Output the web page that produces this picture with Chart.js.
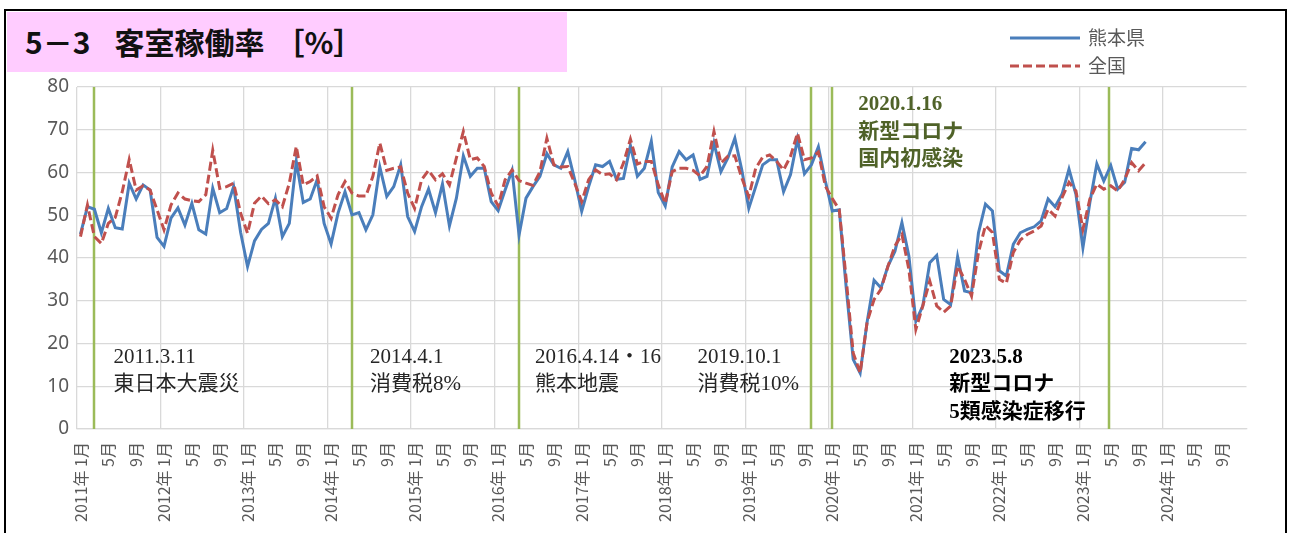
<!DOCTYPE html>
<html lang="ja">
<head>
<meta charset="utf-8">
<title>5－3 客室稼働率</title>
<script src="https://cdn.jsdelivr.net/npm/chart.js@4.4.1/dist/chart.umd.min.js"></script>
<style>
  html, body { margin: 0; padding: 0; background: #fff; }
  #wrap { position: relative; width: 1290px; height: 533px; overflow: hidden; }
  #frame { position: absolute; left: 4px; top: 9px; width: 1279px; height: 560px; border: 2px solid #000; }
  #chart { position: absolute; left: 0; top: 0; }
  #title {
    position: absolute; left: 7px; top: 12px; width: 560px; height: 60px;
    background: #ffccff; color: #111;
    font: bold 30px "Noto Sans CJK JP", sans-serif; line-height: 58px;
    padding-left: 18px; box-sizing: border-box; white-space: nowrap;
  }
  #title .g1 { margin-left: 24px; }
  #title .g2 { margin-left: 10px; }
</style>
</head>
<body>
<div id="wrap">
  <div id="frame"></div>
  <canvas id="chart" width="1290" height="533"></canvas>
  <div id="title"><span>5－3</span><span class="g1">客室稼働率</span><span class="g2">［%］</span></div>
</div>
<script>
// categories: 2011年1月 .. 2024年12月
const years = [2011, 2012, 2013, 2014, 2015, 2016, 2017, 2018, 2019, 2020, 2021, 2022, 2023, 2024];
const months = ['1月', '2月', '3月', '4月', '5月', '6月', '7月', '8月', '9月', '10月', '11月', '12月'];

// 熊本県 (2011年1月 - 2023年10月)
const kumamoto = [
  45.6, 52.0, 51.4, 45.9, 51.6, 47.1, 46.8, 57.5, 53.8, 57.1, 55.9, 44.8,
  42.7, 49.3, 51.7, 47.7, 52.8, 46.6, 45.6, 56.3, 50.6, 51.6, 56.7, 46.0,
  38.0, 44.0, 46.7, 48.1, 54.0, 45.0, 48.1, 62.6, 53.0, 53.8, 58.3, 48.1,
  43.3, 50.5, 55.5, 50.1, 50.6, 46.6, 50.1, 61.3, 54.4, 56.7, 61.8, 49.7,
  46.2, 52.0, 56.1, 50.6, 57.3, 47.5, 54.0, 63.9, 59.1, 61.0, 61.0, 53.2,
  51.1, 55.9, 60.5, 45.4, 54.0, 56.7, 59.1, 64.4, 61.8, 61.0, 64.9, 58.3,
  50.9, 56.7, 61.8, 61.4, 62.6, 58.4, 58.6, 66.3, 59.1, 61.0, 67.3, 55.3,
  52.2, 61.3, 64.9, 63.0, 64.1, 58.4, 59.1, 66.9, 60.2, 63.4, 68.0, 60.6,
  51.6, 56.7, 61.8, 63.0, 63.0, 55.5, 59.5, 67.8, 59.7, 61.8, 66.0, 58.0,
  51.0, 51.3, 33.0, 16.3, 13.1, 25.0, 34.8, 33.0, 38.1, 41.6, 48.3, 40.5,
  25.2, 28.8, 38.9, 40.6, 30.3, 29.1, 40.3, 32.3, 31.9, 45.9, 52.6, 51.0,
  37.0, 35.8, 43.2, 45.9, 46.7, 47.3, 48.7, 53.8, 52.0, 54.9, 60.8, 54.9,
  42.4, 53.0, 62.0, 58.0, 61.6, 56.1, 57.7, 65.6, 65.3, 67.2
];

// 全国 (2011年1月 - 2023年10月)
const zenkoku = [
  45.0, 52.4, 45.0, 43.4, 48.1, 49.5, 55.5, 63.0, 55.9, 56.9, 55.9, 51.3,
  46.6, 52.4, 55.2, 53.8, 53.4, 53.2, 54.8, 65.2, 56.3, 56.7, 57.5, 50.5,
  45.8, 52.8, 54.5, 52.7, 53.6, 52.0, 57.5, 66.1, 57.1, 57.9, 59.2, 52.0,
  49.3, 54.8, 57.9, 55.2, 54.5, 54.5, 59.1, 66.9, 60.5, 61.0, 61.3, 55.2,
  51.6, 58.3, 60.5, 58.3, 59.7, 57.1, 63.4, 69.6, 63.0, 63.4, 61.4, 55.2,
  52.2, 58.3, 60.6, 58.1, 57.5, 57.0, 60.2, 68.0, 61.8, 61.3, 61.4, 57.5,
  53.2, 58.3, 60.6, 59.5, 59.7, 58.3, 62.2, 67.8, 62.0, 62.6, 62.6, 57.1,
  52.8, 60.2, 61.0, 61.0, 60.5, 59.2, 61.4, 69.6, 62.2, 63.8, 63.9, 58.7,
  54.4, 61.0, 63.6, 64.1, 62.6, 60.6, 63.8, 69.2, 63.0, 63.4, 64.8, 56.8,
  53.9, 51.3, 35.0, 17.8, 13.1, 25.0, 30.3, 32.7, 38.1, 42.8, 45.5, 37.3,
  23.3, 28.8, 34.6, 28.8, 27.3, 28.8, 38.1, 35.0, 31.1, 41.3, 47.6, 46.0,
  35.0, 34.1, 41.3, 44.2, 45.5, 46.3, 47.5, 51.4, 49.8, 54.1, 57.7, 55.7,
  46.7, 53.8, 57.3, 56.1, 56.9, 55.7, 58.4, 62.3, 60.4, 62.3
];

// events: month index from 2011年1月
const eventMonths = [2, 39, 63, 105, 108, 147.8];
const eventTexts = [
  ['2011.3.11', '東日本大震災'],
  ['2014.4.1', '消費税8%'],
  ['2016.4.14・16', '熊本地震'],
  ['2019.10.1', '消費税10%'],
  ['2020.1.16', '新型コロナ', '国内初感染'],
  ['2023.5.8', '新型コロナ', '5類感染症移行']
];
// text placement/style for each event label
const eventLayout = [
  { dx: 19, at: 16.8, color: '#262626', bold: false },
  { dx: 18, at: 16.8, color: '#262626', bold: false },
  { dx: 16, at: 16.8, color: '#262626', bold: false },
  { dx: -114, at: 16.8, color: '#262626', bold: false },
  { dx: 26, at: 75.8, color: '#4f6228', bold: true },
  { dx: -160, at: 16.8, color: '#000000', bold: true }
];

const categories = [];
const tickLabels = [];
years.forEach((y) => {
  months.forEach((m, k) => {
    categories.push(y + '年' + m);
    tickLabels.push(k === 0 ? y + '年 ' + m : (k % 4 === 0 ? m : ''));
  });
});

const GREEN = '#9bbb59';
const GRID = '#d9d9d9';

const eventPlugin = {
  id: 'eventPlugin',
  beforeDatasetsDraw(chart) {
    const { ctx, chartArea, scales } = chart;
    ctx.save();
    ctx.strokeStyle = GREEN;
    ctx.lineWidth = 2.5;
    eventMonths.forEach((m) => {
      const px = Math.round(scales.x.getPixelForValue(m));
      ctx.beginPath();
      ctx.moveTo(px, chartArea.top);
      ctx.lineTo(px, chartArea.bottom);
      ctx.stroke();
    });
    ctx.restore();
  },
  afterDraw(chart) {
    const { ctx, scales } = chart;
    ctx.save();
    ctx.textBaseline = 'middle';
    ctx.textAlign = 'left';
    eventTexts.forEach((lines, i) => {
      const lay = eventLayout[i];
      const px = scales.x.getPixelForValue(eventMonths[i]) + lay.dx;
      const py = scales.y.getPixelForValue(lay.at);
      ctx.fillStyle = lay.color;
      ctx.font = (lay.bold ? 'bold ' : '') + '21px "Liberation Serif", "Noto Sans CJK JP"';
      lines.forEach((t, j) => ctx.fillText(t, px, py + j * 27.5));
    });

    // legend
    const items = chart.data.datasets;
    ctx.font = '19px "Noto Sans CJK JP"';
    ctx.fillStyle = '#595959';
    items.forEach((ds, j) => {
      const ly = 38 + j * 28;
      ctx.strokeStyle = ds.borderColor;
      ctx.lineWidth = ds.borderWidth;
      ctx.setLineDash(ds.borderDash || []);
      ctx.beginPath();
      ctx.moveTo(1010, ly);
      ctx.lineTo(1080, ly);
      ctx.stroke();
      ctx.setLineDash([]);
      ctx.fillText(ds.label, 1088, ly);
    });
    ctx.restore();
  }
};

const config = {
  type: 'line',
  data: {
    labels: categories,
    datasets: [
      {
        label: '熊本県',
        data: kumamoto,
        borderColor: '#4a7ebb',
        borderWidth: 3,
        pointRadius: 0,
        tension: 0,
        order: 2
      },
      {
        label: '全国',
        data: zenkoku,
        borderColor: '#c0504d',
        borderWidth: 3,
        borderDash: [9, 4],
        pointRadius: 0,
        tension: 0,
        order: 1
      }
    ]
  },
  options: {
    responsive: false,
    animation: false,
    devicePixelRatio: 1,
    layout: { padding: { top: 87, right: 43.5, left: 0, bottom: 0 } },
    plugins: {
      legend: { display: false },
      tooltip: { enabled: false },
      title: { display: false }
    },
    scales: {
      x: {
        offset: true,
        grid: {
          offset: true,
          drawTicks: false,
          lineWidth: 1.3,
          color: (c) => (c.index % 12 === 0 ? GRID : 'rgba(0,0,0,0)')
        },
        border: { color: GRID, width: 1.3 },
        ticks: {
          autoSkip: false,
          minRotation: 90,
          maxRotation: 90,
          padding: 13,
          color: '#595959',
          font: { family: '"Noto Sans CJK JP"', size: 16 },
          callback: (v, i) => tickLabels[i]
        },
        afterFit: (s) => { s.height = 104; }
      },
      y: {
        min: 0,
        max: 80,
        ticks: {
          stepSize: 10,
          padding: 8,
          color: '#595959',
          font: { family: '"Noto Sans"', size: 19 }
        },
        grid: { drawTicks: false, color: GRID, lineWidth: 1.3 },
        border: { display: false },
        afterFit: (s) => { s.width = 77; }
      }
    }
  },
  plugins: [eventPlugin]
};

const myChart = new Chart(document.getElementById('chart'), config);
</script>
</body>
</html>
